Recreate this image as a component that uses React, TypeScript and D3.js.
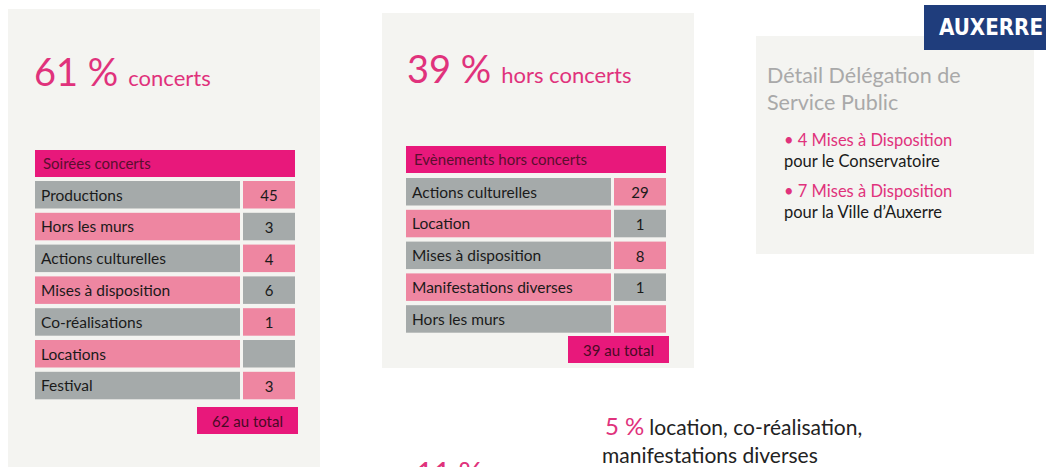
import React from "react";
import * as d3 from "d3";

// ---- data ----
const concertLabels = ["Productions", "Hors les murs", "Actions culturelles", "Mises à disposition", "Co-réalisations", "Locations", "Festival"];
const concertValues: (number | null)[] = [45, 3, 4, 6, 1, null, 3];
const concertShare = 61;
const concertTotal = 62;

const otherLabels = ["Actions culturelles", "Location", "Mises à disposition", "Manifestations diverses", "Hors les murs"];
const otherValues: (number | null)[] = [29, 1, 8, 1, null];
const otherShare = 39;
const otherTotal = 39;

const dspItems = ["4 Mises à Disposition", "7 Mises à Disposition"];
const dspTargets = ["pour le Conservatoire", "pour la Ville d’Auxerre"];

const W = 1046;
const H = 467;
const FONT = "Lato, 'Open Sans', sans-serif";
const PINK_TXT = "#e0327c";
const MAGENTA = "#e8187b";
const LIGHT = "#ee86a1";
const GRAY = "#a5aaaa";
const PANEL = "#f4f4f1";

type TableProps = {
  x: number;
  headerTop: number;
  rowsTop: number;
  header: string;
  labels: string[];
  values: (number | null)[];
  total: number;
  totalTop: number;
};

function Table({ x, headerTop, rowsTop, header, labels, values, total, totalTop }: TableProps) {
  const pitch = 31.8;
  const rowH = 27.5;
  const pad = (pitch - rowH) / pitch;
  const y = d3
    .scaleBand<string>()
    .domain(labels)
    .range([rowsTop, rowsTop + labels.length * pitch - (pitch - rowH)])
    .paddingInner(pad)
    .paddingOuter(0);
  const labelW = 205;
  const valX = x + 208;
  const valW = 52;
  return (
    <g>
      <rect x={x} y={headerTop} width={260} height={27} fill={MAGENTA} />
      <text x={x + 8} y={headerTop + 19} fontSize={15} fill="#5a0f2e" fontFamily={FONT}>
        {header}
      </text>
      {labels.map((l, i) => {
        const even = i % 2 === 0;
        const yy = y(l)!;
        const v = values[i];
        return (
          <g key={l}>
            <rect x={x} y={yy} width={labelW} height={y.bandwidth()} fill={even ? GRAY : LIGHT} />
            <rect x={valX} y={yy} width={valW} height={y.bandwidth()} fill={even ? LIGHT : GRAY} />
            <text x={x + 6} y={yy + 19.5} fontSize={15.5} fill="#1a1a1a" fontFamily={FONT}>
              {l}
            </text>
            {v !== null && (
              <text x={valX + valW / 2} y={yy + 20} fontSize={15} fill="#1a1a1a" textAnchor="middle" fontFamily={FONT}>
                {v}
              </text>
            )}
          </g>
        );
      })}
      <rect x={valX - 46} y={totalTop} width={101} height={27} fill={MAGENTA} />
      <text x={valX - 46 + 50.5} y={totalTop + 20} fontSize={15} fill="#4a0a25" textAnchor="middle" fontFamily={FONT}>
        {`${total} au total`}
      </text>
    </g>
  );
}

export default function App() {
  return (
    <svg width={W} height={H} style={{ position: "absolute", left: 0, top: 0, display: "block" }}>
      <rect x={0} y={0} width={W} height={H} fill="#ffffff" />
      {/* left panel */}
      <rect x={8} y={9} width={312} height={470} fill={PANEL} />
      <text x={34} y={86} fontFamily={FONT} fill={PINK_TXT}>
        <tspan fontSize={38}>{`${concertShare} %`}</tspan>
        <tspan fontSize={22} dx={10}>concerts</tspan>
      </text>
      <Table
        x={35}
        headerTop={150}
        rowsTop={181}
        header="Soirées concerts"
        labels={concertLabels}
        values={concertValues}
        total={concertTotal}
        totalTop={407}
      />

      {/* middle panel */}
      <rect x={382} y={13} width={312} height={355} fill={PANEL} />
      <text x={407} y={83} fontFamily={FONT} fill={PINK_TXT}>
        <tspan fontSize={38}>{`${otherShare} %`}</tspan>
        <tspan fontSize={22} dx={10}>hors concerts</tspan>
      </text>
      <Table
        x={406}
        headerTop={146}
        rowsTop={178}
        header="Evènements hors concerts"
        labels={otherLabels}
        values={otherValues}
        total={otherTotal}
        totalTop={336}
      />

      {/* right panel */}
      <rect x={756} y={36} width={278} height={218} fill={PANEL} />
      <rect x={924} y={5} width={130} height={45} fill="#1f3d7c" />
      <text
        x={939}
        y={35}
        fontSize={23}
        fontWeight="bold"
        fill="#ffffff"
        textLength={104}
        lengthAdjust="spacingAndGlyphs"
        fontFamily="'DejaVu Sans Condensed', 'DejaVu Sans', sans-serif"
      >
        AUXERRE
      </text>
      <text x={767} y={83} fontSize={21.5} fill="#a9a9a9" fontFamily={FONT}>
        Détail Délégation de
      </text>
      <text x={767} y={110} fontSize={21.5} fill="#a9a9a9" fontFamily={FONT}>
        Service Public
      </text>
      {dspItems.map((d, i) => (
        <g key={d}>
          <text x={784} y={146 + i * 51} fontSize={16.5} fill={PINK_TXT} fontFamily={FONT}>
            {`• ${d}`}
          </text>
          <text x={784} y={167 + i * 51} fontSize={16.5} fill="#1a1a1a" fontFamily={FONT}>
            {dspTargets[i]}
          </text>
        </g>
      ))}

      {/* bottom notes */}
      <text x={605} y={435} fontFamily={FONT} fill="#222">
        <tspan fontSize={24} fill={PINK_TXT}>5 %</tspan>
        <tspan fontSize={21} dx={5}>location, co-réalisation,</tspan>
      </text>
      <text x={602} y={463} fontSize={21} fill="#222" fontFamily={FONT}>
        manifestations diverses
      </text>
      <text x={416} y={484} fontSize={30} fill={PINK_TXT} fontFamily={FONT}>
        11 %
      </text>
    </svg>
  );
}
